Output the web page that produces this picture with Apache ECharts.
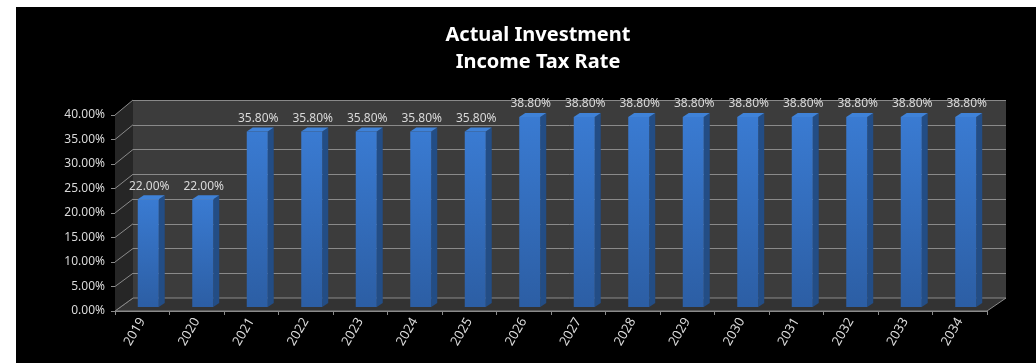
<!DOCTYPE html>
<html>
<head>
<meta charset="utf-8">
<script src="https://cdn.jsdelivr.net/npm/echarts@6/dist/echarts.min.js"></script>
<style>
  html, body { margin: 0; padding: 0; background: #fff; }
  #taxRate { position: absolute; left: 16px; top: 7px; width: 1020px; height: 356px; background: #000; }
</style>
</head>
<body>
<div id="taxRate"></div>
<script>
// data
var years = ['2019', '2020', '2021', '2022', '2023', '2024', '2025', '2026',
  '2027', '2028', '2029', '2030', '2031', '2032', '2033', '2034'];
var rates = [22.0, 22.0, 35.8, 35.8, 35.8, 35.8, 35.8, 38.8,
  38.8, 38.8, 38.8, 38.8, 38.8, 38.8, 38.8, 38.8];
var yTicks = [0, 5, 10, 15, 20, 25, 30, 35, 40];

var font = 'Noto Sans';
var labelColor = '#d9d9d9';
var lineColor = '#8a8a8a';

var chart = echarts.init(document.getElementById('taxRate'));

// bars sit half way into the box depth
var shiftX = 6, shiftY = -4, sideW = 6, topH = 4;

function renderBar(params, api) {
  var i = api.value(0);
  var v = api.value(1);
  var top = api.coord([i, v]);
  var base = api.coord([i, 0]);
  var w = api.size([1, 0])[0] * 0.385;
  var x0 = top[0] - w / 2 + shiftX;
  var x1 = x0 + w;
  var yt = top[1] + shiftY;
  var yb = base[1] + shiftY;
  return {
    type: 'group',
    children: [
      {
        type: 'polygon',
        shape: { points: [[x1, yb], [x1, yt], [x1 + sideW, yt - topH], [x1 + sideW, yb - topH]] },
        style: { fill: '#234d85' }
      },
      {
        type: 'polygon',
        shape: { points: [[x0, yt], [x1, yt], [x1 + sideW, yt - topH], [x0 + sideW, yt - topH]] },
        style: { fill: '#3f82d8' }
      },
      {
        type: 'rect',
        shape: { x: x0, y: yt, width: w, height: yb - yt },
        style: {
          fill: new echarts.graphic.LinearGradient(0, 0, 0, 1, [
            { offset: 0, color: '#3a7bd2' },
            { offset: 1, color: '#2c5ea4' }
          ])
        }
      },
      {
        type: 'text',
        style: {
          x: (x0 + x1 + sideW) / 2 - 2,
          y: yt - topH - 3,
          text: v.toFixed(2) + '%',
          fill: labelColor,
          font: '12px "' + font + '"',
          align: 'center',
          verticalAlign: 'bottom'
        }
      }
    ]
  };
}

var option = {
  backgroundColor: '#000',
  animation: false,
  title: {
    text: 'Actual Investment\nIncome Tax Rate',
    left: 517,
    top: 10,
    textAlign: 'center',
    textStyle: {
      color: '#fff',
      fontFamily: font,
      fontWeight: 'bold',
      fontSize: 20,
      lineHeight: 27
    }
  },
  grid: [
    // front plane (axes)
    { left: 99, top: 108, right: 49, bottom: 52 },
    // back wall
    { left: 117, top: 93, right: 30, bottom: 65, show: true, backgroundColor: '#3c3c3c', borderWidth: 0 }
  ],
  xAxis: [
    {
      type: 'category',
      data: years,
      gridIndex: 0,
      axisLine: { lineStyle: { color: lineColor } },
      axisTick: { show: true, length: 4, lineStyle: { color: lineColor } },
      axisLabel: { rotate: 60, color: labelColor, fontFamily: font, fontSize: 13, margin: 8 }
    },
    {
      type: 'category',
      data: years,
      gridIndex: 1,
      show: false
    }
  ],
  yAxis: [
    {
      type: 'value',
      gridIndex: 0,
      min: 0,
      max: 40,
      interval: 5,
      axisLine: { show: true, lineStyle: { color: lineColor } },
      axisTick: { show: true, length: 4, lineStyle: { color: lineColor } },
      splitLine: { show: false },
      axisLabel: {
        color: labelColor, fontFamily: font, fontSize: 12, margin: 10,
        formatter: function (v) { return v.toFixed(2) + '%'; }
      }
    },
    {
      type: 'value',
      gridIndex: 1,
      min: 0,
      max: 40,
      interval: 5,
      axisLine: { show: false },
      axisTick: { show: false },
      axisLabel: { show: false },
      splitLine: { show: true, lineStyle: { color: lineColor, width: 1 } }
    }
  ],
  series: [
    {
      type: 'custom',
      xAxisIndex: 0,
      yAxisIndex: 0,
      z: 10,
      renderItem: renderBar,
      data: rates.map(function (r, i) { return [i, r]; })
    }
  ]
};
chart.setOption(option);

// 3d box walls built from the two planes
var fRect = chart.getModel().getComponent('grid', 0).coordinateSystem.getRect();
var bRect = chart.getModel().getComponent('grid', 1).coordinateSystem.getRect();

var gfx = [];
// floor
gfx.push({
  type: 'polygon', z: 1,
  shape: { points: [
    [fRect.x, fRect.y + fRect.height], [fRect.x + fRect.width, fRect.y + fRect.height],
    [bRect.x + bRect.width, bRect.y + bRect.height], [bRect.x, bRect.y + bRect.height]
  ] },
  style: { fill: '#333333', stroke: lineColor, lineWidth: 1 }
});
// left wall
gfx.push({
  type: 'polygon', z: 1,
  shape: { points: [
    [fRect.x, fRect.y + fRect.height], [fRect.x, fRect.y],
    [bRect.x, bRect.y], [bRect.x, bRect.y + bRect.height]
  ] },
  style: { fill: '#262626' }
});
yTicks.forEach(function (t) {
  var f = chart.convertToPixel({ yAxisIndex: 0 }, t);
  var b = chart.convertToPixel({ yAxisIndex: 1 }, t);
  gfx.push({
    type: 'line', z: 2,
    shape: { x1: fRect.x, y1: f, x2: bRect.x, y2: b },
    style: { stroke: lineColor, lineWidth: 1 }
  });
});
chart.setOption({ graphic: gfx });
</script>
</body>
</html>
